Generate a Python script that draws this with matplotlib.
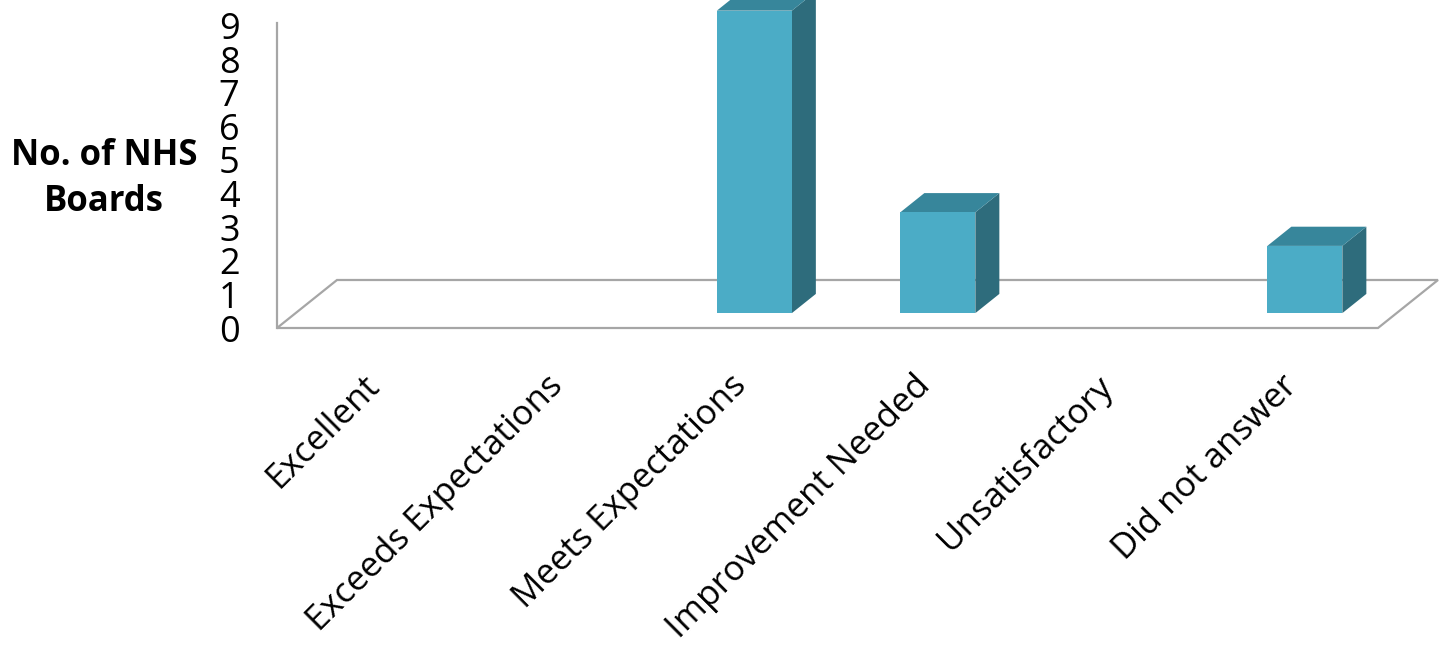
import matplotlib.pyplot as plt
from matplotlib.patches import Polygon
from matplotlib.transforms import ScaledTranslation

categories = ["Excellent", "Exceeds Expectations", "Meets Expectations",
              "Improvement Needed", "Unsatisfactory", "Did not answer"]
boards = [0, 0, 9, 3, 0, 2]
yticks = list(range(10))

plt.rcParams['font.family'] = ['Open Sans', 'DejaVu Sans']

front_col = "#4BACC6"
side_col = "#2E6C7C"
top_col = "#37869B"
line_col = "#A6A6A6"

fig = plt.figure(figsize=(14.41, 6.52), dpi=100)
ax = fig.add_axes([277 / 1441, 324 / 652, 1101 / 1441, 328 / 652])
ax.set_xlim(-0.5, len(categories) - 0.5)
ax.set_ylim(0, 9.76)

# depth of the floor (data units) and where the bars sit inside it
dx, dy = 60 / 183.5, 48 / 33.6
d0, d1 = 0.31, 0.71
width = 75 / 183.5
xs = [i + d0 * dx for i in range(len(categories))]
y0 = d0 * dy
ddx, ddy = (d1 - d0) * dx, (d1 - d0) * dy

# floor
n = len(categories)
floor = Polygon([(-0.5, 0), (n - 0.5, 0), (n - 0.5 + dx, dy), (-0.5 + dx, dy)],
                closed=True, facecolor="white", edgecolor=line_col, lw=1.6,
                clip_on=False, zorder=1)
ax.add_patch(floor)
ax.plot([-0.5, -0.5], [0, 9.08], color=line_col, lw=1.6, clip_on=False, zorder=1)

# bars: front faces
ax.bar(xs, boards, width, bottom=y0, color=front_col, zorder=3)

# sides and tops
for x, v in zip(xs, boards):
    if v == 0:
        continue
    xl, xr = x - width / 2, x + width / 2
    side = Polygon([(xr, y0), (xr + ddx, y0 + ddy), (xr + ddx, y0 + v + ddy), (xr, y0 + v)],
                   closed=True, facecolor=side_col, edgecolor="none", zorder=2, clip_on=False)
    top = Polygon([(xl, y0 + v), (xr, y0 + v), (xr + ddx, y0 + v + ddy), (xl + ddx, y0 + v + ddy)],
                  closed=True, facecolor=top_col, edgecolor="none", zorder=2, clip_on=False)
    ax.add_patch(side)
    ax.add_patch(top)

for s in ax.spines.values():
    s.set_visible(False)

ax.set_yticks(yticks)
ax.set_yticklabels([str(t) for t in yticks], fontsize=26)
ax.tick_params(axis='y', length=0, pad=27)

ax.set_xticks(xs)
ax.set_xticklabels(categories, rotation=45, ha='right', va='center',
                   rotation_mode='anchor', fontsize=25)
ax.tick_params(axis='x', length=0, pad=38)
shift = ScaledTranslation(-13 / 100, 0, fig.dpi_scale_trans)
for lab in ax.get_xticklabels():
    lab.set_transform(lab.get_transform() + shift)

fig.text(104 / 1441, 1 - 179 / 652, "No. of NHS\nBoards", ha='center', va='center',
         fontsize=25, fontweight='bold', linespacing=1.35)

fig.savefig("out.png", dpi=100)
